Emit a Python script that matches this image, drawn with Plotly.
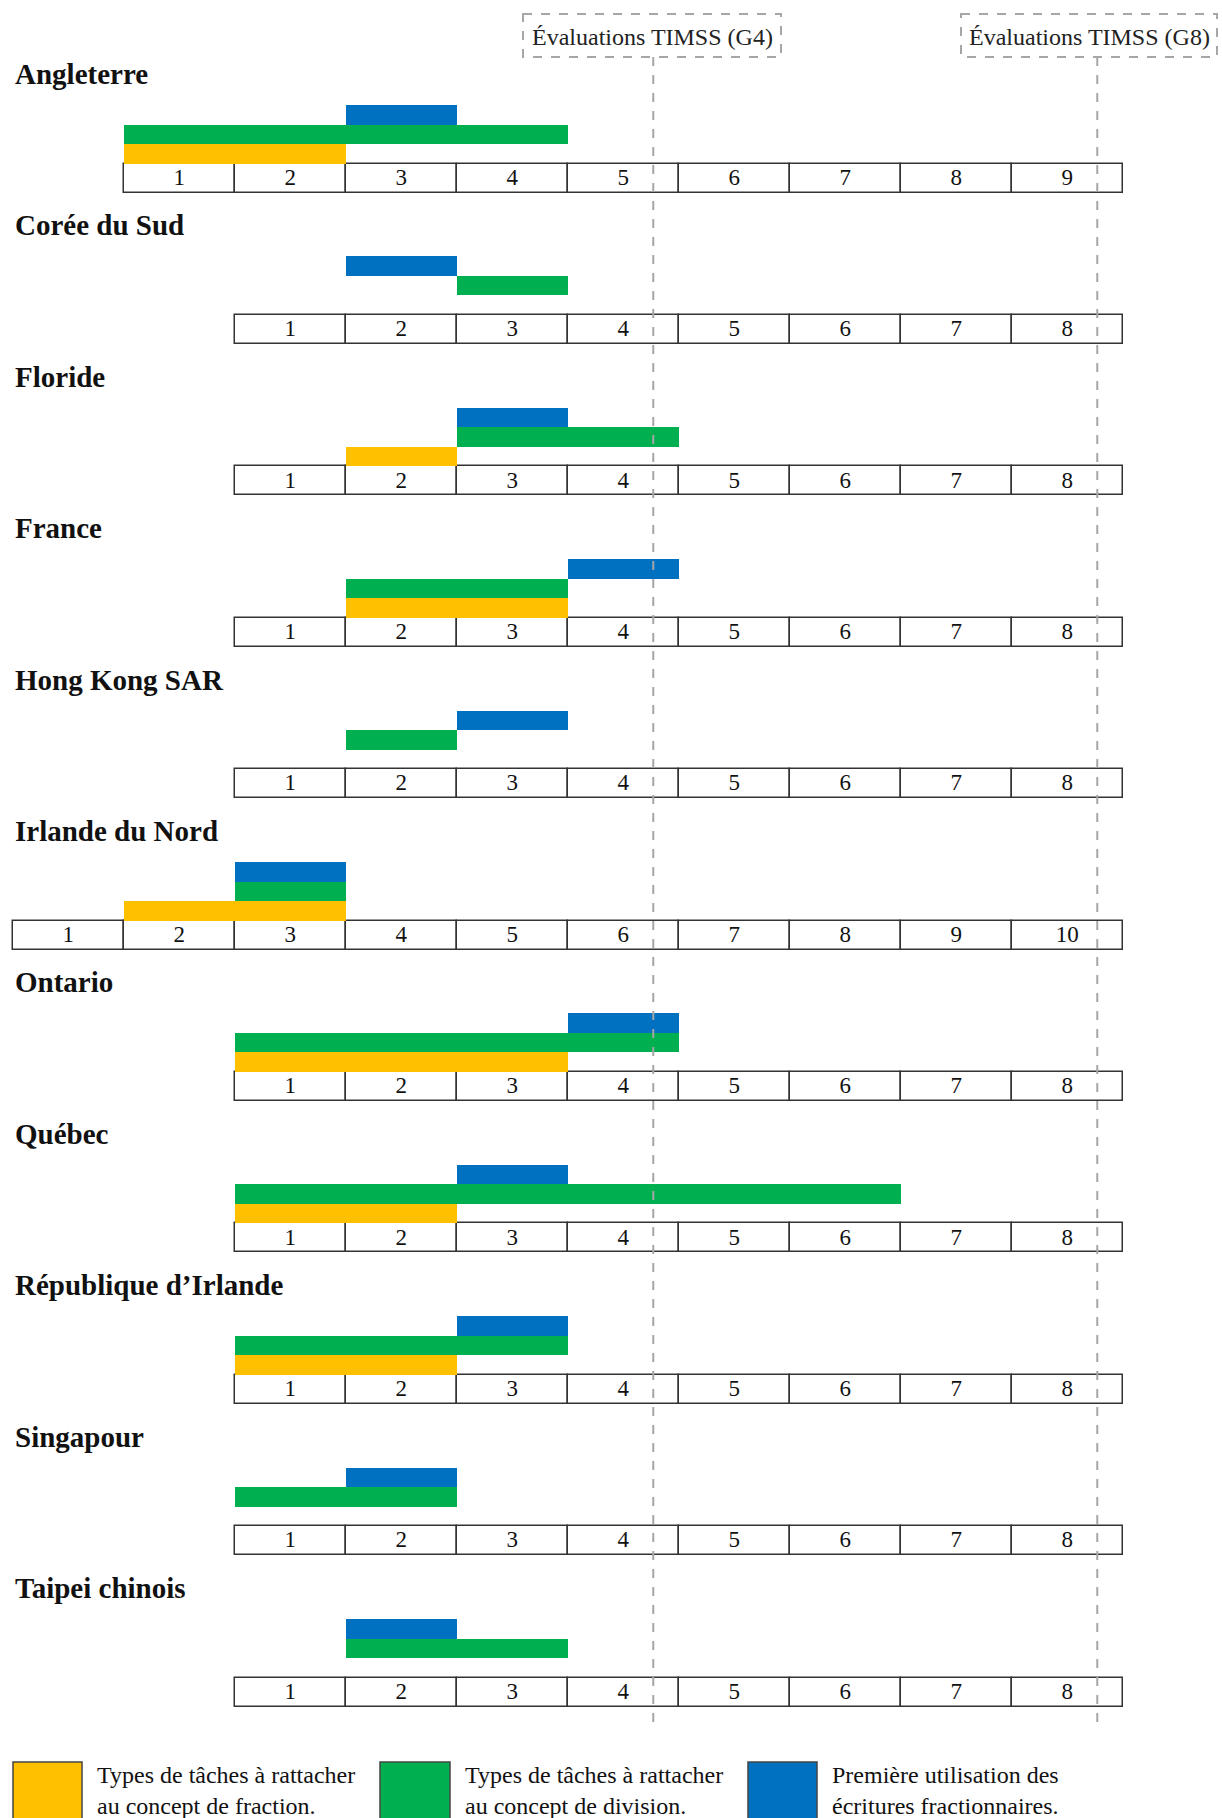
import plotly.graph_objects as go

# data
countries = [
    "Angleterre", "Corée du Sud", "Floride", "France", "Hong Kong SAR",
    "Irlande du Nord", "Ontario", "Québec", "République d’Irlande",
    "Singapour", "Taipei chinois",
]
n_grades = [9, 8, 8, 8, 8, 10, 8, 8, 8, 8, 8]
first_slot = [1, 2, 2, 2, 2, 0, 2, 2, 2, 2, 2]  # column where grade 1 sits

# (first grade, last grade), None when absent
fraction_grades = [(1, 2), None, (2, 2), (2, 3), None, (2, 3), (1, 3), (1, 2), (1, 2), None, None]
division_grades = [(1, 4), (3, 3), (3, 4), (2, 3), (2, 2), (3, 3), (1, 4), (1, 6), (1, 3), (1, 2), (2, 3)]
ecriture_grades = [(3, 3), (2, 2), (3, 3), (4, 4), (3, 3), (3, 3), (4, 4), (3, 3), (3, 3), (2, 2), (2, 2)]

timss_labels = ["Évaluations TIMSS (G4)", "Évaluations TIMSS (G8)"]
timss_pos = [5.77, 9.77]

legend_labels = [
    "Types de tâches à rattacher<br>au concept de fraction.",
    "Types de tâches à rattacher<br>au concept de division.",
    "Première utilisation des<br>écritures fractionnaires.",
]

YELLOW = "#FFC000"
GREEN = "#00B050"
BLUE = "#0070C0"
SERIF = "Liberation Serif, Times New Roman, serif"

W, H = 1222, 1818
X0, SLOT = 12.8, 111.0          # pixel of column 0, pixel width of a column
ROW0, ROW_STEP = 163.5, 151.4   # top of first cell row, spacing of rows
CELL_H, BAR_H = 29, 19.5

fig = go.Figure()

series = [
    (fraction_grades, YELLOW, 0),
    (division_grades, GREEN, 1),
    (ecriture_grades, BLUE, 2),
]

for i, country in enumerate(countries):
    top = ROW0 + i * ROW_STEP
    off = first_slot[i] - 1

    # grade cells
    slots = [off + g for g in range(1, n_grades[i] + 1)]
    fig.add_trace(
        go.Bar(
            orientation="h",
            y=[top + CELL_H / 2] * len(slots),
            x=[1] * len(slots),
            base=slots,
            width=CELL_H,
            marker=dict(color="white", line=dict(color="#333333", width=1.5)),
            showlegend=False,
            hoverinfo="skip",
        )
    )
    fig.add_trace(
        go.Scatter(
            x=[s + 0.5 for s in slots],
            y=[top + CELL_H / 2 + 1] * len(slots),
            text=[str(g) for g in range(1, n_grades[i] + 1)],
            mode="text",
            textfont=dict(family=SERIF, size=23, color="#111111"),
            showlegend=False,
            hoverinfo="skip",
        )
    )

    # coloured bars, one layer per series
    for grades, color, layer in series:
        g = grades[i]
        if g is None:
            continue
        fig.add_trace(
            go.Bar(
                orientation="h",
                y=[top - BAR_H * (layer + 0.5)],
                x=[g[1] - g[0] + 1],
                base=[off + g[0]],
                width=BAR_H,
                marker=dict(color=color, line=dict(width=0)),
                showlegend=False,
                hoverinfo="skip",
            )
        )

    fig.add_annotation(
        x=0, y=top - 89.5, xref="x", yref="y",
        text="<b>" + country + "</b>",
        showarrow=False, xanchor="left", yanchor="middle",
        font=dict(family=SERIF, size=29, color="#111111"),
    )

# TIMSS assessment markers
box_px = [(523, 781), (961, 1217)]
for label, pos, (bx0, bx1) in zip(timss_labels, timss_pos, box_px):
    fig.add_shape(
        type="line", xref="x", yref="y",
        x0=pos, x1=pos, y0=57, y1=1724,
        line=dict(color="#A6A6A6", width=2, dash="dash"),
        layer="above",
    )
    fig.add_shape(
        type="rect", xref="x", yref="y",
        x0=(bx0 - X0) / SLOT, x1=(bx1 - X0) / SLOT, y0=14, y1=57,
        line=dict(color="#A6A6A6", width=2, dash="dash"),
        fillcolor="white", layer="above",
    )
    fig.add_annotation(
        x=((bx0 + bx1) / 2 - X0) / SLOT, y=37, xref="x", yref="y",
        text=label, showarrow=False,
        font=dict(family=SERIF, size=24, color="#222222"),
    )

# legend drawn by hand
legend_px = [(13, 82), (380, 450), (748, 817)]
for label, color, (lx0, lx1) in zip(legend_labels, [YELLOW, GREEN, BLUE], legend_px):
    fig.add_shape(
        type="rect", xref="x", yref="y",
        x0=(lx0 - X0) / SLOT, x1=(lx1 - X0) / SLOT, y0=1762, y1=1830,
        line=dict(color="#444444", width=1.5), fillcolor=color,
    )
    fig.add_annotation(
        x=(lx1 + 13 - X0) / SLOT, y=1790, xref="x", yref="y",
        text=label, showarrow=False, xanchor="left", yanchor="middle", align="left",
        font=dict(family=SERIF, size=24, color="#111111"),
    )

fig.update_xaxes(range=[-X0 / SLOT, (W - X0) / SLOT], visible=False, fixedrange=True)
fig.update_yaxes(range=[H, 0], visible=False, fixedrange=True)
fig.update_layout(
    width=W,
    height=H,
    margin=dict(l=0, r=0, t=0, b=0),
    barmode="overlay",
    bargap=0,
    plot_bgcolor="white",
    paper_bgcolor="white",
    showlegend=False,
)

fig.write_html(
    "out.html",
    config={"displayModeBar": False},
    post_script="document.body.style.margin = '0';",
)
